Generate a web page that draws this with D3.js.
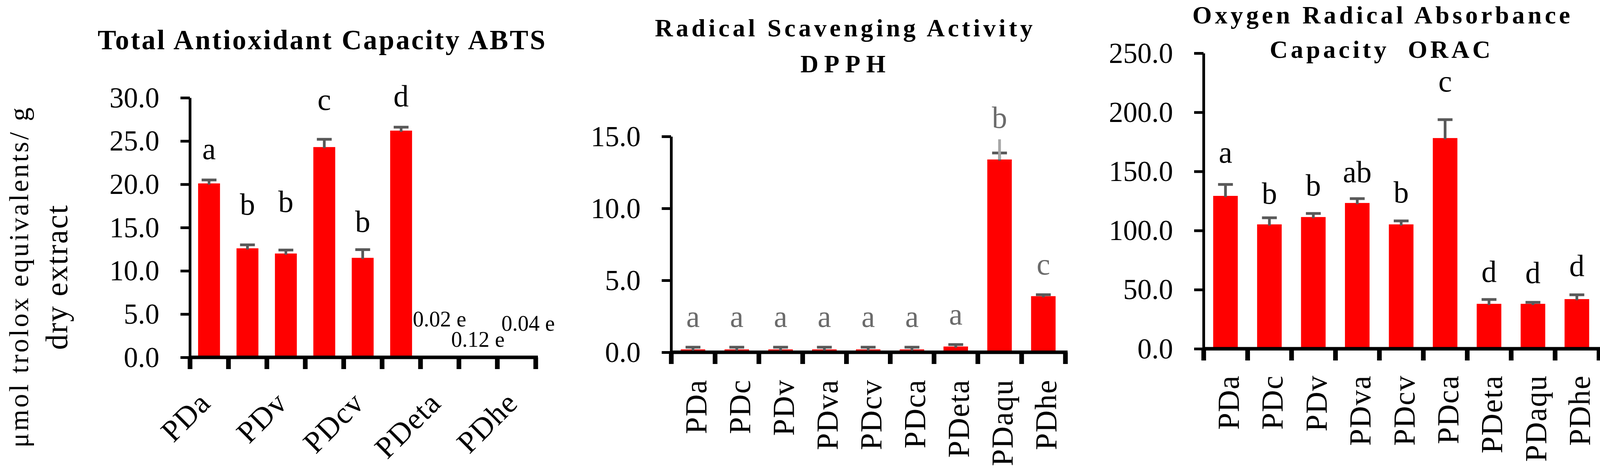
<!DOCTYPE html>
<html>
<head>
<meta charset="utf-8">
<script src="https://cdn.jsdelivr.net/npm/d3@7"></script>
<style>
  body { margin: 0; background: #fff; }
  text { font-family: "Liberation Serif", serif; }
</style>
</head>
<body>
<svg id="chart" width="4113" height="1197"></svg>
<script>
const categories = ["PDa", "PDc", "PDv", "PDva", "PDcv", "PDca", "PDeta", "PDaqu", "PDhe"];

// ABTS
const abtsValues   = [20.1, 12.6, 12.0, 24.3, 11.5, 26.2, 0.02, 0.12, 0.04];
const abtsErrors   = [0.4, 0.4, 0.4, 0.9, 0.95, 0.4, 0, 0, 0];
const abtsLetters  = ["a", "b", "b", "c", "b", "d", "0.02 e", "0.12 e", "0.04 e"];
const abtsLetterAt = [22.9, 16.5, 16.8, 28.6, 14.5, 29.0, 3.56, 1.2, 3.07];
const abtsTicks    = [0, 5, 10, 15, 20, 25, 30];

// DPPH
const dpphValues   = [0.2, 0.2, 0.2, 0.2, 0.2, 0.2, 0.4, 13.4, 3.9];
const dpphErrors   = [0.15, 0.15, 0.15, 0.15, 0.15, 0.15, 0.14, 0.45, 0.1];
const dpphUpper    = [null, null, null, null, null, null, null, 14.8, null];
const dpphLetters  = ["a", "a", "a", "a", "a", "a", "a", "b", "c"];
const dpphLetterAt = [1.76, 1.76, 1.76, 1.76, 1.76, 1.76, 1.92, 15.6, 5.42];
const dpphTicks    = [0, 5, 10, 15];

// ORAC
const oracValues   = [129.3, 105.2, 111.4, 123.3, 105.2, 178.2, 38.0, 38.0, 42.0];
const oracErrors   = [9.7, 5.6, 3.0, 3.7, 2.9, 15.6, 3.7, 1.3, 3.6];
const oracLetters  = ["a", "b", "b", "ab", "b", "c", "d", "d", "d"];
const oracLetterAt = [157.4, 122.7, 129.6, 140.9, 123.7, 217.5, 56.5, 55.6, 61.5];
const oracTicks    = [0, 50, 100, 150, 200, 250];

const svg = d3.select("#chart");
svg.append("rect").attr("width", 4113).attr("height", 1197).attr("fill", "#fff");

function drawPanel(cfg) {
  const g = svg.append("g");
  const x = d3.scaleBand().domain(categories).range([cfg.x0, cfg.x1])
    .paddingInner(cfg.pad).paddingOuter(cfg.pad / 2);
  const xi = d3.scaleLinear().domain([0, categories.length]).range([cfg.x0, cfg.x1]);
  const y = d3.scaleLinear().domain([0, d3.max(cfg.ticks)]).range([cfg.y0, cfg.yTop]);

  const rows = categories.map((c, i) => ({
    c, v: cfg.values[i], e: cfg.errors[i], lab: cfg.letters[i], at: cfg.letterAt[i],
    up: cfg.upper ? cfg.upper[i] : null, dx: cfg.letterDx ? cfg.letterDx[i] : 0
  }));

  // bars
  g.selectAll("rect.bar").data(rows).enter().append("rect")
    .attr("class", "bar")
    .attr("x", d => x(d.c))
    .attr("width", x.bandwidth())
    .attr("y", d => y(d.v))
    .attr("height", d => y(0) - y(d.v))
    .attr("fill", "#ff0000");

  // y axis
  const yAxis = g.append("g")
    .attr("transform", `translate(${cfg.x0},0)`)
    .call(d3.axisLeft(y).tickValues(cfg.ticks).tickFormat(d3.format(".1f"))
      .tickSize(24).tickSizeOuter(0).tickPadding(54));
  yAxis.select(".domain").attr("stroke", "#000").attr("stroke-width", 7);
  yAxis.selectAll(".tick line").attr("stroke", "#000").attr("stroke-width", 7);
  yAxis.selectAll(".tick text").attr("fill", "#000")
    .style("font-size", "73px").attr("dy", "0.33em");

  // x axis tick marks at band boundaries
  const xAxis = g.append("g")
    .attr("transform", `translate(0,${cfg.y0})`)
    .call(d3.axisBottom(xi).tickValues(d3.range(categories.length + 1))
      .tickFormat("").tickSize(30).tickSizeOuter(0));
  xAxis.select(".domain").attr("stroke", "#000").attr("stroke-width", 9)
    .attr("d", `M${cfg.x0 - 3},0H${cfg.x1 + 6}`);
  xAxis.selectAll(".tick line").attr("stroke", "#000").attr("stroke-width", 12);

  // category labels
  const lab = g.append("g")
    .attr("transform", `translate(0,${cfg.labelTop})`)
    .call(d3.axisBottom(x).tickSize(0).tickPadding(0)
      .tickFormat((d, i) => (cfg.everyOther && i % 2 === 1) ? "" : d));
  lab.select(".domain").remove();
  lab.selectAll(".tick text")
    .attr("fill", "#000")
    .style("font-size", "78px")
    .style("letter-spacing", "2px")
    .attr("text-anchor", "end")
    .attr("y", 0)
    .attr("x", 0)
    .attr("transform", cfg.rotate === -45 ? "translate(8,0) rotate(-45)" : "rotate(-90)")
    .attr("dy", cfg.rotate === -45 ? "0" : "0.43em");

  // error bars
  const err = rows.filter(d => d.e > 0);
  const cx = d => x(d.c) + x.bandwidth() / 2;
  g.selectAll("line.ev").data(err).enter().append("line")
    .attr("x1", cx).attr("x2", cx)
    .attr("y1", d => Math.min(y(d.v) + 3, cfg.y0 - 4)).attr("y2", d => y(d.v + d.e))
    .attr("stroke", "#595959").attr("stroke-width", 7);
  g.selectAll("line.ec").data(err).enter().append("line")
    .attr("x1", d => cx(d) - 19).attr("x2", d => cx(d) + 19)
    .attr("y1", d => y(d.v + d.e)).attr("y2", d => y(d.v + d.e))
    .attr("stroke", "#595959").attr("stroke-width", 7);
  g.selectAll("line.up").data(rows.filter(d => d.up != null)).enter().append("line")
    .attr("x1", cx).attr("x2", cx)
    .attr("y1", d => y(d.v)).attr("y2", d => y(d.up))
    .attr("stroke", "#a6a6a6").attr("stroke-width", 7);

  // significance letters
  g.selectAll("text.letter").data(rows).enter().append("text")
    .attr("x", d => cx(d) + d.dx)
    .attr("y", d => y(d.at))
    .attr("text-anchor", "middle")
    .attr("fill", cfg.letterColor)
    .style("font-size", d => d.lab.length > 2 ? "56px" : "78px")
    .text(d => d.lab);

  // title
  cfg.title.forEach(t => {
    g.append("text")
      .attr("x", t.cx).attr("y", t.y)
      .attr("text-anchor", "middle")
      .attr("font-weight", "bold")
      .style("font-size", t.size + "px")
      .style("white-space", "pre")
      .attr("textLength", t.w).attr("lengthAdjust", "spacing")
      .text(t.text);
  });
}

drawPanel({
  x0: 486, x1: 1371, y0: 914, yTop: 250, pad: 0.43,
  values: abtsValues, errors: abtsErrors, letters: abtsLetters, letterAt: abtsLetterAt,
  letterDx: [0, 0, 0, 0, 0, 0, 0, 0, 30],
  ticks: abtsTicks, letterColor: "#000", everyOther: true, rotate: -45, labelTop: 1035,
  title: [{ text: "Total Antioxidant Capacity ABTS", cx: 823, y: 126, w: 1146, size: 71 }]
});

drawPanel({
  x0: 1718, x1: 2727, y0: 901, yTop: 349, pad: 0.44,
  values: dpphValues, errors: dpphErrors, upper: dpphUpper,
  letters: dpphLetters, letterAt: dpphLetterAt,
  ticks: dpphTicks, letterColor: "#6b6b6b", everyOther: false, rotate: -90, labelTop: 970,
  title: [
    { text: "Radical Scavenging Activity", cx: 2160, y: 93, w: 967, size: 64 },
    { text: "DPPH", cx: 2158, y: 185, w: 218, size: 64 }
  ]
});

drawPanel({
  x0: 3081, x1: 4093, y0: 892, yTop: 136, pad: 0.44,
  values: oracValues, errors: oracErrors, letters: oracLetters, letterAt: oracLetterAt,
  ticks: oracTicks, letterColor: "#000", everyOther: false, rotate: -90, labelTop: 959,
  title: [
    { text: "Oxygen Radical Absorbance", cx: 3536, y: 60, w: 967, size: 64 },
    { text: "Capacity  ORAC", cx: 3533, y: 148, w: 565, size: 64 }
  ]
});

// y axis title (first panel)
const yt = svg.append("g").attr("transform", "translate(0,710)");
yt.append("text").attr("transform", "translate(72,0) rotate(-90)")
  .attr("text-anchor", "middle").style("font-size", "70px")
  .attr("textLength", 870).attr("lengthAdjust", "spacing")
  .text("μmol trolox equivalents/ g");
yt.append("text").attr("transform", "translate(172,0) rotate(-90)")
  .attr("text-anchor", "middle").style("font-size", "80px")
  .attr("textLength", 370).attr("lengthAdjust", "spacing")
  .text("dry extract");
</script>
</body>
</html>
